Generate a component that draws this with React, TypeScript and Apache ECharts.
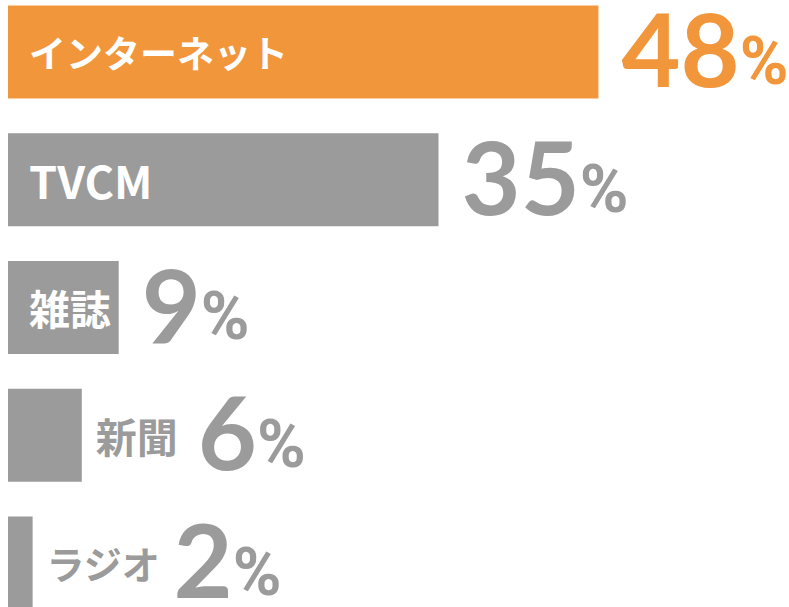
import React, { useEffect, useRef } from "react";
import * as echarts from "echarts";

const categories = ["インターネット", "TVCM", "雑誌", "新聞", "ラジオ"];
const values = [48, 35, 9, 6, 2];
const highlight = [true, false, false, false, false];
const nameInside = [true, true, true, false, false];
const nameSizes = [37, 45, 41, 41, 38];
const nameGaps = [20, 20, 20, 20, 13];

const ORANGE = "#F1963A";
const GRAY = "#9B9B9B";
const JP_FONT = '"Noto Sans CJK JP", "Noto Sans", sans-serif';
const NUM_FONT = 'Lato, "Noto Sans", sans-serif';
const PCT_FONT = 'Roboto, "Noto Sans", sans-serif';

export default function App() {
  const ref = useRef<HTMLDivElement>(null);

  useEffect(() => {
    document.body.style.margin = "0";
    if (!ref.current) return;
    const chart = echarts.init(ref.current, null, { renderer: "svg" });

    const richFor = (orange: boolean, nameSize: number, gap: number) => {
      const c = orange ? ORANGE : GRAY;
      return {
        n: {
          fontFamily: JP_FONT,
          fontSize: nameSize,
          fontWeight: "bold",
          color: GRAY,
          verticalAlign: "middle",
          padding: [8.4, gap, 0, 0],
        },
        v: {
          fontFamily: NUM_FONT,
          fontSize: 102,
          fontWeight: "bold",
          color: c,
          lineHeight: 100,
          verticalAlign: "middle",
        },
        p: {
          fontFamily: PCT_FONT,
          fontSize: 66,
          fontWeight: "bold",
          color: c,
          verticalAlign: "middle",
          padding: [27.4, 0, 0, 0],
        },
      };
    };

    const barData = values.map((v, i) => ({
      value: v,
      itemStyle: { color: highlight[i] ? ORANGE : GRAY },
      label: {
        show: true,
        position: "right",
        distance: nameInside[i] ? 23 : 14,
        offset: [0, -4.2],
        formatter: nameInside[i]
          ? `{v|${v}}{p|%}`
          : `{n|${categories[i]}}{v|${v}}{p|%}`,
        rich: richFor(highlight[i], nameSizes[i], nameGaps[i]),
      },
    }));

    const nameData = values.map((v, i) => ({
      value: v,
      label: {
        show: nameInside[i],
        position: "insideLeft",
        distance: 21,
        formatter: categories[i],
        color: "#FFFFFF",
        fontFamily: JP_FONT,
        fontSize: nameSizes[i],
        fontWeight: "bold",
      },
    }));

    chart.setOption({
      animation: false,
      grid: {
        left: 8,
        top: 0,
        width: 787.2,
        height: 638.75,
        containLabel: false,
      },
      xAxis: {
        type: "value",
        min: 0,
        max: 64,
        show: false,
      },
      yAxis: {
        type: "category",
        data: categories,
        inverse: true,
        show: false,
      },
      series: [
        {
          type: "bar",
          data: barData,
          barWidth: 93,
          silent: true,
        },
        {
          type: "bar",
          data: nameData,
          barWidth: 93,
          barGap: "-100%",
          itemStyle: { color: "rgba(0,0,0,0)" },
          silent: true,
          z: 3,
        },
      ],
    });

    return () => chart.dispose();
  }, []);

  return (
    <div style={{ width: 789, height: 607, overflow: "hidden", position: "relative" }}>
      <div
        ref={ref}
        style={{ position: "absolute", left: 0, top: -12.4, width: 800, height: 640 }}
      />
    </div>
  );
}
